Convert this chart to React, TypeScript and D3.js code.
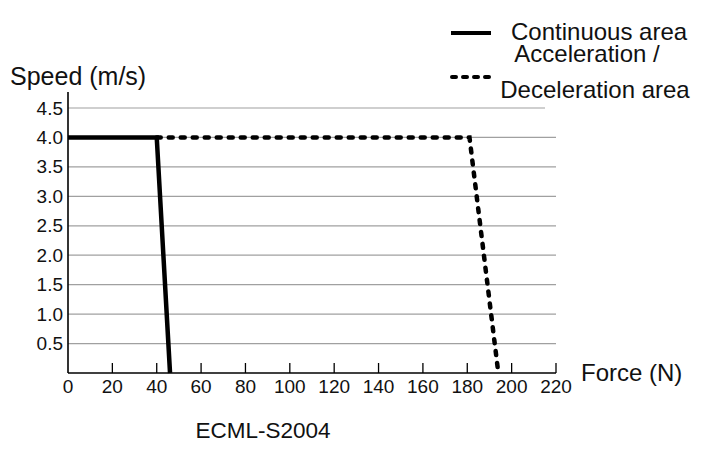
import React from "react";
import * as d3 from "d3";

const xTicks = [0, 20, 40, 60, 80, 100, 120, 140, 160, 180, 200, 220];
const yTicks = [0.5, 1.0, 1.5, 2.0, 2.5, 3.0, 3.5, 4.0, 4.5];
const continuousForce = [0, 40, 46];
const continuousSpeed = [4.0, 4.0, 0];
const accelForce = [40, 181, 194];
const accelSpeed = [4.0, 4.0, 0];

const FONT = "'Liberation Sans', Arial, Helvetica, sans-serif";

export default function App() {
  const x = d3.scaleLinear().domain([0, 220]).range([68, 556]);
  const y = d3.scaleLinear().domain([0, 4.5]).range([373, 108]);
  const line = d3
    .line<[number, number]>()
    .x((d) => x(d[0]))
    .y((d) => y(d[1]));
  const cont = continuousForce.map((f, i) => [f, continuousSpeed[i]] as [number, number]);
  const acc = accelForce.map((f, i) => [f, accelSpeed[i]] as [number, number]);

  return (
    <svg
      width={704}
      height={449}
      style={{ position: "absolute", left: 0, top: 0, background: "#fff" }}
      fontFamily={FONT}
    >
      {/* gridlines */}
      {yTicks.map((t) => (
        <line
          key={"g" + t}
          x1={x(0)}
          x2={t === 4.5 ? 545 : x(220)}
          y1={y(t)}
          y2={y(t)}
          stroke="#a0a0a0"
          strokeWidth={1.2}
        />
      ))}
      {/* y tick labels */}
      {yTicks.map((t) => (
        <text
          key={"yl" + t}
          x={63}
          y={y(t) + 6.5}
          textAnchor="end"
          fontSize={19}
          fill="#111"
        >
          {t.toFixed(1)}
        </text>
      ))}
      {/* x ticks */}
      {xTicks.slice(1).map((t) => (
        <line key={"xt" + t} x1={x(t)} x2={x(t)} y1={y(0)} y2={y(0) - 10} stroke="#000" strokeWidth={1.3} />
      ))}
      {xTicks.map((t) => (
        <text key={"xl" + t} x={x(t)} y={393} textAnchor="middle" fontSize={19} fill="#111">
          {t}
        </text>
      ))}
      {/* axes */}
      <line x1={x(0)} x2={x(0)} y1={92} y2={y(0)} stroke="#000" strokeWidth={1.6} />
      <line x1={x(0)} x2={x(220)} y1={y(0)} y2={y(0)} stroke="#000" strokeWidth={1.6} />

      {/* series */}
      <path
        d={line(acc) || ""}
        fill="none"
        stroke="#000"
        strokeWidth={4.5}
        strokeDasharray="4,8"
        strokeLinecap="round"
      />
      <path d={line(cont) || ""} fill="none" stroke="#000" strokeWidth={4.5} />

      {/* axis titles */}
      <text x={10} y={85} fontSize={25} fill="#111">
        Speed (m/s)
      </text>
      <text x={581} y={381} fontSize={24} fill="#111">
        Force (N)
      </text>
      <text x={263} y={438} textAnchor="middle" fontSize={22.5} fill="#111">
        ECML-S2004
      </text>

      {/* legend */}
      <line x1={451} x2={491} y1={33} y2={33} stroke="#000" strokeWidth={4} />
      <text x={511} y={40} fontSize={24} fill="#111">
        Continuous area
      </text>
      <line
        x1={452}
        x2={491}
        y1={77}
        y2={77}
        stroke="#000"
        strokeWidth={4}
        strokeDasharray="4,7"
        strokeLinecap="round"
      />
      <text x={587} y={62} textAnchor="middle" fontSize={24} fill="#111">
        Acceleration /
      </text>
      <text x={595} y={98} textAnchor="middle" fontSize={24} fill="#111">
        Deceleration area
      </text>
    </svg>
  );
}
